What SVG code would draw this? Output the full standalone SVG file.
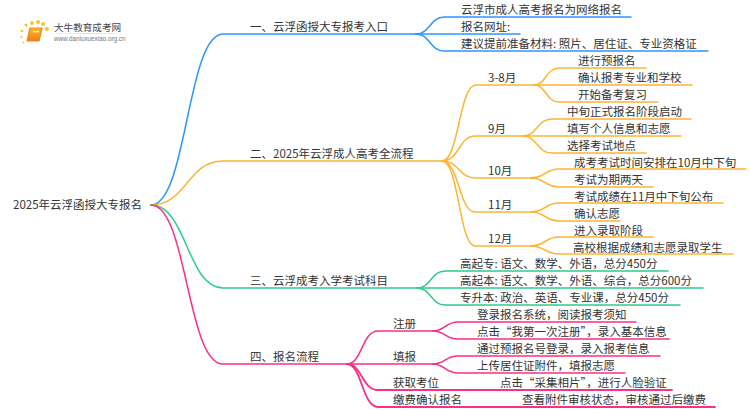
<svg xmlns="http://www.w3.org/2000/svg" width="750" height="410" viewBox="0 0 750 410">
<defs>
<linearGradient id="book" x1="0" y1="0" x2="0" y2="1"><stop offset="0" stop-color="#fdb92c"/><stop offset="1" stop-color="#ee7d12"/></linearGradient>
<linearGradient id="rule" x1="0" y1="0" x2="1" y2="0"><stop offset="0" stop-color="#ddd" stop-opacity="0"/><stop offset=".5" stop-color="#ddd"/><stop offset="1" stop-color="#ddd" stop-opacity="0"/></linearGradient>
</defs>
<style>
text{font-family:"Noto Sans CJK SC","Noto Sans",sans-serif;font-size:11.5px;fill:#333}
path{fill:none;stroke-width:1.5;stroke-linecap:round}
.b path{stroke:#2f95fb}.o path{stroke:#fdb534}.g path{stroke:#2fcc8b}.p path{stroke:#fb2f85}
.dot{fill:#fcc02e}
</style>
<rect width="750" height="410" fill="#fff"/>
<g id="logo">
<circle class="dot" cx="47" cy="29" r="2"/><circle class="dot" cx="43" cy="24" r="1.9"/><circle class="dot" cx="38" cy="22" r="2"/><circle class="dot" cx="32" cy="23" r="1.9"/><circle class="dot" cx="26" cy="25" r="1.5"/><circle class="dot" cx="22" cy="31" r="1.3"/><circle class="dot" cx="21.500" cy="37" r="1.1"/><circle class="dot" cx="23.500" cy="42.500" r=".9"/>
<path d="M30 28H42L39 41H27Z" style="fill:url(#book);stroke:#f08a18;stroke-width:1.200;stroke-linejoin:round"/>
<rect x="33" y="31" width="6" height="1.400" fill="#fff" opacity=".7"/>
<text x="54" y="31" style="font-size:9.600px;fill:#444">大牛教育成考网</text>
<text x="54" y="41" style="font-size:6.300px;fill:#777;font-family:'Liberation Sans',sans-serif">www.daniuxuexiao.org.cn</text>
<rect x="45" y="33" width="88" height="1" fill="url(#rule)"/>
</g>
<g id="connectors">
<g class="b">
<path d="M151 205C187 205 187 34 223 34H416"/>
<path d="M416 34C430 34 430 17 444 17H631"/>
<path d="M416 34H520"/>
<path d="M416 34C430 34 430 51 444 51H708"/>
</g>
<g class="o">
<path d="M151 205C187 205 187 161 223 161H442"/>
<path d="M442 161C459 161 459 85 476 85H535"/>
<path d="M442 161C459 161 459 136 475 136H523"/>
<path d="M442 161C459 161 459 178 475 178H532"/>
<path d="M442 161C459 161 459 212 475 212H532"/>
<path d="M442 161C459 161 459 246 475 246H532"/>
<path d="M534 85C546 85 546 68 559 68H646"/>
<path d="M534 85H692"/>
<path d="M534 85C546 85 546 102 559 102H658"/>
<path d="M523 136C537 136 537 119 552 119H691"/>
<path d="M523 136H681"/>
<path d="M523 136C537 136 537 153 552 153H646"/>
<path d="M531 178C545 178 545 169 559 169H746"/>
<path d="M531 178C545 178 545 187 559 187H653"/>
<path d="M531 212C545 212 545 203 559 203H723"/>
<path d="M531 212C545 212 545 221 559 221H620"/>
<path d="M531 246C545 246 545 237 559 237H653"/>
<path d="M531 246C545 246 545 254 559 254H733"/>
</g>
<g class="g">
<path d="M151 205C187 205 187 288 223 288H417"/>
<path d="M417 288C431 288 431 271 445 271H668"/>
<path d="M417 288H703"/>
<path d="M417 288C431 288 431 305 445 305H680"/>
</g>
<g class="p">
<path d="M151 205C187 205 187 364 223 364H347"/>
<path d="M347 364C362 364 362 331 378 331H433"/>
<path d="M347 364H433"/>
<path d="M347 364C362 364 362 390 378 390H672" style="stroke-width:1.800"/>
<path d="M347 364C362 364 362 407 378 407H715" style="stroke-width:1.800"/>
<path d="M433 331C445 331 445 322 458 322H636"/>
<path d="M433 331C445 331 445 339 458 339H669"/>
<path d="M433 364C445 364 445 356 458 356H660"/>
<path d="M433 364C445 364 445 373 458 373H625"/>
</g>
</g>
<g id="root"><text x="13" y="209">2025年云浮函授大专报名</text></g>
<g id="n1"><text x="250" y="31">一、云浮函授大专报考入口</text></g>
<g id="n1-1"><text x="461" y="14">云浮市成人高考报名为网络报名</text></g>
<g id="n1-2"><text x="461" y="31">报名网址:</text></g>
<g id="n1-3"><text x="461" y="48">建议提前准备材料: 照片、居住证、专业资格证</text></g>
<g id="n2"><text x="250" y="158">二、2025年云浮成人高考全流程</text></g>
<g id="n2-1"><text x="488" y="82">3-8月</text></g>
<g id="n2-1-1"><text x="578" y="65">进行预报名</text></g>
<g id="n2-1-2"><text x="578" y="82">确认报考专业和学校</text></g>
<g id="n2-1-3"><text x="578" y="99">开始备考复习</text></g>
<g id="n2-2"><text x="488" y="133">9月</text></g>
<g id="n2-2-1"><text x="567" y="116">中旬正式报名阶段启动</text></g>
<g id="n2-2-2"><text x="567" y="133">填写个人信息和志愿</text></g>
<g id="n2-2-3"><text x="567" y="150">选择考试地点</text></g>
<g id="n2-3"><text x="488" y="175">10月</text></g>
<g id="n2-3-1"><text x="574" y="167">成考考试时间安排在10月中下旬</text></g>
<g id="n2-3-2"><text x="574" y="184">考试为期两天</text></g>
<g id="n2-4"><text x="488" y="209">11月</text></g>
<g id="n2-4-1"><text x="574" y="201">考试成绩在11月中下旬公布</text></g>
<g id="n2-4-2"><text x="574" y="218">确认志愿</text></g>
<g id="n2-5"><text x="488" y="243">12月</text></g>
<g id="n2-5-1"><text x="574" y="235">进入录取阶段</text></g>
<g id="n2-5-2"><text x="573" y="252">高校根据成绩和志愿录取学生</text></g>
<g id="n3"><text x="250" y="285">三、云浮成考入学考试科目</text></g>
<g id="n3-1"><text x="460" y="268">高起专: 语文、数学、外语，总分450分</text></g>
<g id="n3-2"><text x="460" y="285">高起本: 语文、数学、外语、综合，总分600分</text></g>
<g id="n3-3"><text x="460" y="302">专升本: 政治、英语、专业课，总分450分</text></g>
<g id="n4"><text x="250" y="361">四、报名流程</text></g>
<g id="n4-1"><text x="393" y="328">注册</text></g>
<g id="n4-1-1"><text x="477" y="319">登录报名系统，阅读报考须知</text></g>
<g id="n4-1-2"><text x="477" y="336">点击“我第一次注册”，录入基本信息</text></g>
<g id="n4-2"><text x="393" y="361">填报</text></g>
<g id="n4-2-1"><text x="477" y="353">通过预报名号登录，录入报考信息</text></g>
<g id="n4-2-2"><text x="477" y="370">上传居住证附件，填报志愿</text></g>
<g id="n4-3"><text x="393" y="387">获取考位</text></g>
<g id="n4-3-1"><text x="500" y="387">点击“采集相片”，进行人脸验证</text></g>
<g id="n4-4"><text x="393" y="404">缴费确认报名</text></g>
<g id="n4-4-1"><text x="522" y="404">查看附件审核状态，审核通过后缴费</text></g>
</svg>
